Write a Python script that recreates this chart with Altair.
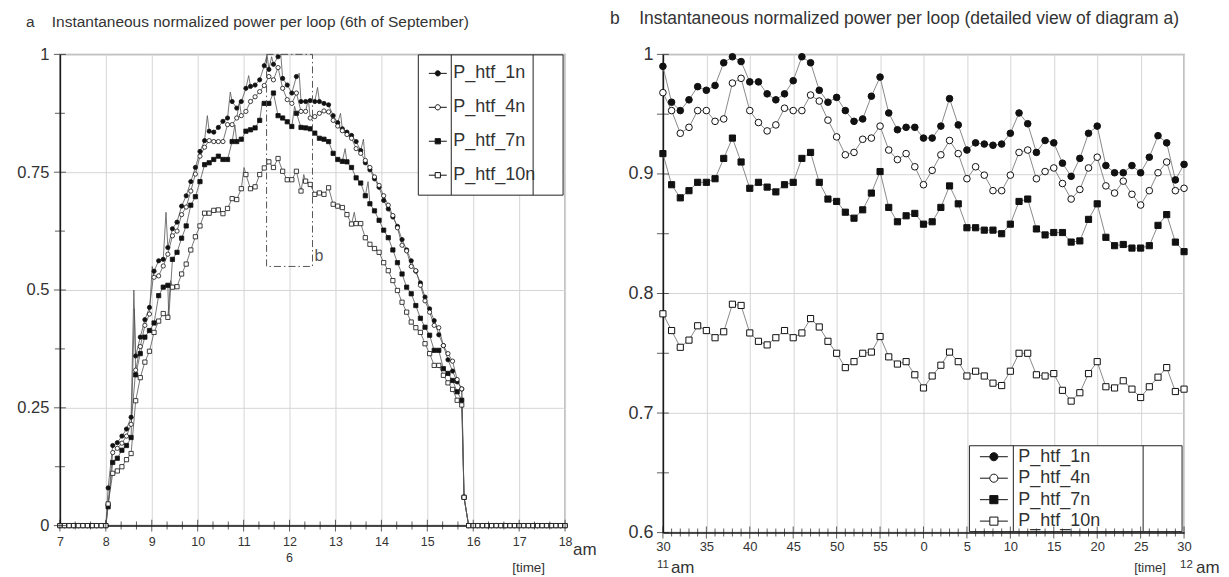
import altair as alt
import pandas as pd

FONT = "Liberation Sans"
INK = "#333333"
AXIS_INK = "#1a1a1a"
GRID = "#d5d5d5"
FRAME = "#a8a8a8"

SERIES = ["P_htf_1n", "P_htf_4n", "P_htf_7n", "P_htf_10n"]
MARKER_FILL = ["#111111", "#ffffff", "#111111", "#ffffff"]
ROUND_SERIES = ["P_htf_1n", "P_htf_4n"]
SQUARE_SERIES = ["P_htf_7n", "P_htf_10n"]

# ================= diagram a : whole day (hours) =================
A_T_DAY = [round(8.05 + 0.1 * k, 2) for k in range(78)]
A_1N = [0.08, 0.17, 0.176, 0.19, 0.205, 0.23, 0.36, 0.40, 0.437, 0.463,
        0.54, 0.562, 0.565, 0.59, 0.63, 0.644, 0.678, 0.70, 0.73, 0.76,
        0.794, 0.817, 0.837, 0.835, 0.845, 0.858, 0.865, 0.90, 0.886, 0.90,
        0.928, 0.932, 0.935, 0.946, 0.976, 0.968, 0.979, 0.995, 0.949, 0.935,
        0.918, 0.953, 0.90, 0.90, 0.902, 0.90, 0.90, 0.896, 0.893, 0.87,
        0.855, 0.842, 0.835, 0.828, 0.815, 0.796, 0.77, 0.755, 0.736, 0.718,
        0.69, 0.672, 0.655, 0.635, 0.607, 0.585, 0.562, 0.54, 0.515, 0.485,
        0.46, 0.435, 0.405, 0.382, 0.352, 0.328, 0.305, 0.29]
A_4N = [0.045, 0.155, 0.164, 0.175, 0.19, 0.215, 0.33, 0.38, 0.425, 0.449,
        0.527, 0.53, 0.551, 0.576, 0.615, 0.625, 0.66, 0.676, 0.71, 0.746,
        0.784, 0.803, 0.817, 0.815, 0.815, 0.815, 0.851, 0.851, 0.865, 0.87,
        0.879, 0.90, 0.91, 0.921, 0.934, 0.953, 0.946, 0.972, 0.928, 0.904,
        0.896, 0.918, 0.879, 0.879, 0.865, 0.868, 0.875, 0.88, 0.878, 0.86,
        0.848, 0.838, 0.83, 0.822, 0.80, 0.79, 0.775, 0.76, 0.74, 0.722,
        0.70, 0.68, 0.658, 0.632, 0.595, 0.583, 0.55, 0.541, 0.51, 0.477,
        0.453, 0.425, 0.42, 0.382, 0.365, 0.349, 0.31, 0.29]
A_7N = [0.04, 0.134, 0.143, 0.16, 0.17, 0.187, 0.32, 0.365, 0.40, 0.414,
        0.43, 0.488, 0.506, 0.51, 0.565, 0.58, 0.61, 0.636, 0.68, 0.698,
        0.73, 0.766, 0.77, 0.777, 0.784, 0.777, 0.777, 0.815, 0.815, 0.82,
        0.837, 0.84, 0.844, 0.86, 0.896, 0.896, 0.918, 0.87, 0.865, 0.857,
        0.847, 0.875, 0.845, 0.844, 0.842, 0.833, 0.822, 0.82, 0.815, 0.79,
        0.777, 0.773, 0.772, 0.76, 0.738, 0.727, 0.70, 0.683, 0.668, 0.648,
        0.627, 0.611, 0.585, 0.558, 0.534, 0.506, 0.492, 0.467, 0.44, 0.421,
        0.404, 0.372, 0.372, 0.333, 0.323, 0.308, 0.284, 0.266]
A_10N = [0.046, 0.111, 0.116, 0.125, 0.14, 0.153, 0.265, 0.314, 0.347, 0.37,
         0.41, 0.434, 0.45, 0.442, 0.506, 0.507, 0.534, 0.555, 0.585, 0.613,
         0.636, 0.663, 0.663, 0.669, 0.67, 0.662, 0.673, 0.694, 0.692, 0.715,
         0.745, 0.715, 0.719, 0.745, 0.759, 0.772, 0.76, 0.779, 0.752, 0.734,
         0.734, 0.752, 0.71, 0.731, 0.724, 0.703, 0.706, 0.703, 0.717, 0.682,
         0.678, 0.675, 0.66, 0.64, 0.641, 0.641, 0.611, 0.597, 0.588, 0.58,
         0.558, 0.541, 0.52, 0.499, 0.474, 0.453, 0.432, 0.42, 0.41, 0.386,
         0.365, 0.34, 0.34, 0.319, 0.303, 0.289, 0.266, 0.256]
A_T_TRIP = 15.8
A_TRIP = [0.06, 0.06, 0.06, 0.06]
A_T_OFF = [7.0, 7.1, 7.2, 7.3, 7.4, 7.5, 7.6, 7.7, 7.8, 7.9, 8.0,
           15.9, 16.0, 16.1, 16.2, 16.3, 16.4, 16.5, 16.6, 16.7, 16.8, 16.9,
           17.0, 17.1, 17.2, 17.3, 17.4, 17.5, 17.6, 17.7, 17.8, 17.9, 18.0]
A_OFF = 0.0
# short one-minute spikes visible on the lines between markers
A_SPIKE_T = {
    "P_htf_1n": [8.61, 9.31, 10.21, 10.71, 11.11, 11.51, 11.61, 11.81, 12.21, 12.61, 13.11, 13.61],
    "P_htf_4n": [9.01, 10.91, 12.41],
    "P_htf_7n": [8.62, 9.37, 10.81, 11.41, 12.11, 13.21, 13.71],
    "P_htf_10n": [9.41, 11.01, 12.31, 13.41],
}
A_SPIKE_P = {
    "P_htf_1n": [0.50, 0.665, 0.87, 0.92, 0.955, 1.0, 0.995, 1.0, 0.96, 0.93, 0.875, 0.82],
    "P_htf_4n": [0.55, 0.90, 0.905],
    "P_htf_7n": [0.46, 0.44, 0.85, 0.90, 0.89, 0.80, 0.73],
    "P_htf_10n": [0.52, 0.76, 0.745, 0.665],
}
A_ZOOM = {"t0": 11.5, "t1": 12.5, "p0": 0.55, "p1": 1.0}

# ================= diagram b : 11:30 - 12:30 (minutes) =================
B_MINUTE = list(range(30, 91))
B_1N = [0.990, 0.960, 0.953, 0.962, 0.973, 0.970, 0.974, 0.993, 0.998, 0.994,
        0.977, 0.977, 0.967, 0.962, 0.967, 0.978, 0.998, 0.993, 0.970, 0.960,
        0.964, 0.953, 0.944, 0.946, 0.965, 0.981, 0.951, 0.937, 0.939, 0.939,
        0.930, 0.930, 0.940, 0.963, 0.941, 0.920, 0.926, 0.925, 0.924, 0.925,
        0.934, 0.951, 0.942, 0.918, 0.928, 0.926, 0.909, 0.898, 0.913, 0.934,
        0.940, 0.907, 0.901, 0.901, 0.907, 0.901, 0.914, 0.932, 0.926, 0.895,
        0.908]
B_4N = [0.968, 0.953, 0.934, 0.939, 0.953, 0.953, 0.944, 0.946, 0.976, 0.980,
        0.953, 0.943, 0.936, 0.941, 0.955, 0.953, 0.953, 0.966, 0.961, 0.945,
        0.931, 0.916, 0.918, 0.929, 0.930, 0.940, 0.920, 0.912, 0.917, 0.906,
        0.891, 0.903, 0.916, 0.928, 0.917, 0.896, 0.906, 0.899, 0.886, 0.886,
        0.899, 0.918, 0.920, 0.896, 0.902, 0.905, 0.892, 0.879, 0.887, 0.905,
        0.914, 0.890, 0.884, 0.894, 0.883, 0.874, 0.886, 0.901, 0.910, 0.886,
        0.888]
B_7N = [0.917, 0.891, 0.880, 0.886, 0.893, 0.893, 0.896, 0.913, 0.930, 0.910,
        0.888, 0.893, 0.889, 0.885, 0.891, 0.893, 0.913, 0.918, 0.893, 0.879,
        0.877, 0.868, 0.863, 0.870, 0.884, 0.902, 0.872, 0.860, 0.865, 0.867,
        0.858, 0.860, 0.872, 0.890, 0.875, 0.855, 0.855, 0.853, 0.853, 0.850,
        0.858, 0.877, 0.879, 0.854, 0.849, 0.851, 0.851, 0.843, 0.844, 0.862,
        0.875, 0.847, 0.840, 0.841, 0.838, 0.838, 0.840, 0.857, 0.866, 0.843,
        0.835]
B_10N = [0.783, 0.769, 0.755, 0.761, 0.773, 0.769, 0.763, 0.768, 0.791, 0.790,
         0.767, 0.760, 0.757, 0.763, 0.769, 0.763, 0.767, 0.779, 0.772, 0.760,
         0.750, 0.738, 0.743, 0.750, 0.751, 0.764, 0.747, 0.741, 0.743, 0.732,
         0.721, 0.731, 0.740, 0.751, 0.743, 0.731, 0.735, 0.731, 0.725, 0.723,
         0.735, 0.750, 0.750, 0.732, 0.731, 0.733, 0.719, 0.710, 0.717, 0.733,
         0.743, 0.722, 0.721, 0.727, 0.720, 0.713, 0.722, 0.730, 0.738, 0.718,
         0.720]

# ================= axis ticks =================
A_X_MAJOR = list(range(7, 19))
A_X_MINOR = [round(h + f, 4) for h in range(7, 18) for f in (1 / 3, 2 / 3)]
A_Y_MAJOR = [0, 0.25, 0.5, 0.75, 1.0]
A_Y_MINOR = [0.125, 0.375, 0.625, 0.875]
B_X_MAJOR = list(range(30, 91, 5))
B_X_MINOR = [m for m in range(31, 90) if m % 5]
B_Y_MAJOR = [0.6, 0.7, 0.8, 0.9, 1.0]
B_Y_MINOR = [0.65, 0.75, 0.85, 0.95]

A_W, A_H = 506, 472
B_W, B_H = 522, 479


def key_paths(r):
    circle = (f"M-1,0L{-r},0M{r},0L1,0M{r},0A{r},{r},0,1,1,{-r},0"
              f"A{r},{r},0,1,1,{r},0Z")
    square = f"M-1,0L{-r},0M{r},0L1,0M{-r},{-r}L{r},{-r}L{r},{r}L{-r},{r}Z"
    return [circle, circle, square, square]


def legend(x, y, font_size, row_pad, pad, sym_size, sym_offset, label_offset):
    return alt.Legend(
        title=None, orient="none", legendX=x, legendY=y, direction="vertical",
        symbolSize=sym_size, symbolStrokeColor="#111111", symbolStrokeWidth=1,
        symbolOffset=sym_offset, labelOffset=label_offset,
        labelFont=FONT, labelFontSize=font_size, labelColor=INK,
        rowPadding=row_pad, padding=pad, clipHeight=font_size)


def rows(series, times, values):
    return [{"series": series, "t": t, "p": p} for t, p in zip(times, values)]


# ---------- data tables for a ----------
a_rec = []
for i, (s, vals) in enumerate(zip(SERIES, [A_1N, A_4N, A_7N, A_10N])):
    a_rec += rows(s, A_T_OFF, [A_OFF] * len(A_T_OFF))
    a_rec += rows(s, A_T_DAY, vals)
    a_rec += rows(s, [A_T_TRIP], [A_TRIP[i]])
a_marks = pd.DataFrame(a_rec)
spk = []
for s in SERIES:
    spk += rows(s, A_SPIKE_T[s], A_SPIKE_P[s])
a_lines = pd.concat([a_marks, pd.DataFrame(spk)], ignore_index=True)

# ---------- data tables for b ----------
b_rec = []
for s, vals in zip(SERIES, [B_1N, B_4N, B_7N, B_10N]):
    b_rec += [{"series": s, "m": m, "p": p} for m, p in zip(B_MINUTE, vals)]
b_marks = pd.DataFrame(b_rec)

ONE = pd.DataFrame([{"k": 0}])

# ================= panel a =================
xa_scale = alt.Scale(domain=[7, 18], nice=False, zero=False)
ya_scale = alt.Scale(domain=[0, 1], nice=False, zero=False)
xa_axis = alt.Axis(values=A_X_MAJOR, format="d", grid=True, gridColor=GRID, gridWidth=1,
                   ticks=False, tickSize=0, labelPadding=10, labelFont=FONT,
                   labelFontSize=12.5, labelColor=INK, labelFlush=False,
                   labelOverlap=False, labelBound=False, domainColor=AXIS_INK,
                   domainWidth=1.5)
ya_axis = alt.Axis(values=A_Y_MAJOR, format=".2~f", grid=True, gridColor=GRID, gridWidth=1,
                   ticks=False, tickSize=0, labelPadding=11, labelFont=FONT,
                   labelFontSize=16.5, labelColor=INK, labelFlush=False,
                   labelOverlap=False, labelBound=False, domainColor=AXIS_INK,
                   domainWidth=1.5)


def xa(f="t"):
    return alt.X(f"{f}:Q", scale=xa_scale, axis=xa_axis, title=None)


def ya(f="p"):
    return alt.Y(f"{f}:Q", scale=ya_scale, axis=ya_axis, title=None)


leg_a = legend(359, 0, 18, 16, 10, 324, 0, 6)
fill_a = alt.Fill("series:N", scale=alt.Scale(domain=SERIES, range=MARKER_FILL), legend=leg_a)
shape_a = alt.Shape("series:N", scale=alt.Scale(domain=SERIES, range=key_paths(0.29)), legend=leg_a)

a_line = alt.Chart(a_lines).mark_line(color="#555555", strokeWidth=0.8).encode(
    x=xa(), y=ya(), detail="series:N")
a_round = alt.Chart(a_marks[a_marks.series.isin(ROUND_SERIES)]).mark_point(
    shape="circle", filled=True, size=18, stroke="#111111", strokeWidth=0.8, opacity=1
).encode(x=xa(), y=ya(), fill=fill_a)
a_square = alt.Chart(a_marks[a_marks.series.isin(SQUARE_SERIES)]).mark_point(
    shape="square", filled=True, size=18, stroke="#111111", strokeWidth=0.8, opacity=1
).encode(x=xa(), y=ya(), fill=fill_a)
a_key = alt.Chart(a_marks).transform_filter("false").mark_point(
    filled=True, stroke="#111111", strokeWidth=1
).encode(x=xa(), y=ya(), fill=fill_a, shape=shape_a)

# legend frame with its column dividers (drawn under the legend entries)
a_legbg = alt.Chart(ONE).mark_rect(fill="white", stroke="#222222", strokeWidth=1).encode(
    x=alt.value(359), x2=alt.value(504), y=alt.value(0.5), y2=alt.value(141))
a_div1 = alt.Chart(ONE).mark_rule(color="#222222", strokeWidth=1).encode(
    x=alt.value(392), y=alt.value(0.5), y2=alt.value(141))
a_div2 = alt.Chart(ONE).mark_rule(color="#222222", strokeWidth=1).encode(
    x=alt.value(474), y=alt.value(0.5), y2=alt.value(141))

a_zoom = alt.Chart(pd.DataFrame([A_ZOOM])).mark_rect(
    fillOpacity=0, stroke="#555555", strokeWidth=1, strokeDash=[7, 3, 1.5, 3]
).encode(x=xa("t0"), x2=alt.X2("t1"), y=ya("p0"), y2=alt.Y2("p1"))
a_zoom_label = alt.Chart(pd.DataFrame([A_ZOOM])).mark_text(
    text="b", align="left", baseline="alphabetic", dx=2, dy=-5, fontSize=16,
    font=FONT, color="#555555").encode(x=xa("t1"), y=ya("p0"))

a_xt_major = alt.Chart(pd.DataFrame({"t": A_X_MAJOR, "p": [0] * len(A_X_MAJOR)})).mark_tick(
    orient="vertical", size=12, thickness=1, color=AXIS_INK).encode(x=xa(), y=ya())
a_xt_minor = alt.Chart(pd.DataFrame({"t": A_X_MINOR, "p": [0] * len(A_X_MINOR)})).mark_tick(
    orient="vertical", size=8, thickness=1, color=AXIS_INK).encode(x=xa(), y=ya())
a_yt_major = alt.Chart(pd.DataFrame({"t": [7] * len(A_Y_MAJOR), "p": A_Y_MAJOR})).mark_tick(
    orient="horizontal", size=12, thickness=1, color=AXIS_INK).encode(x=xa(), y=ya())
a_yt_minor = alt.Chart(pd.DataFrame({"t": [7] * len(A_Y_MINOR), "p": A_Y_MINOR})).mark_tick(
    orient="horizontal", size=10, thickness=1, color=AXIS_INK).encode(x=xa(), y=ya())


def a_note(t, text, dx, dy, size):
    return alt.Chart(pd.DataFrame([{"t": t, "p": 0}])).mark_text(
        text=text, align="left" if dx else "center", baseline="alphabetic", dx=dx, dy=dy,
        fontSize=size, font=FONT, color=INK).encode(x=xa(), y=ya())


panel_a = alt.layer(
    a_line, a_round, a_square, a_key, a_legbg, a_div1, a_div2, a_zoom, a_zoom_label,
    a_xt_major, a_xt_minor, a_yt_major, a_yt_minor,
    a_note(12, "6", 0, 36, 12.5), a_note(18, "am", 8, 29, 17), a_note(18, "[time]", -53, 46, 13.5),
).properties(
    width=A_W, height=A_H,
    title=alt.TitleParams(
        "a\u00a0\u00a0\u00a0\u00a0Instantaneous normalized power per loop (6th of September)",
        anchor="start", frame="group", dx=-34, offset=4, baseline="alphabetic",
        fontSize=15.5, font=FONT, fontWeight="normal", color=INK))

# ================= panel b =================
xb_scale = alt.Scale(domain=[30, 90], nice=False, zero=False)
yb_scale = alt.Scale(domain=[0.6, 1.0], nice=False, zero=False)
xb_axis = alt.Axis(values=B_X_MAJOR, labelExpr="datum.value % 60", grid=True, gridColor=GRID,
                   gridWidth=1, ticks=False, tickSize=0, labelPadding=8, labelFont=FONT,
                   labelFontSize=13, labelColor=INK, labelFlush=False, labelOverlap=False,
                   labelBound=False, domainColor=AXIS_INK, domainWidth=1.5)
yb_axis = alt.Axis(values=B_Y_MAJOR, format=".1~f", grid=True, gridColor=GRID, gridWidth=1,
                   ticks=False, tickSize=0, labelPadding=10, labelFont=FONT,
                   labelFontSize=18, labelColor=INK, labelFlush=False, labelOverlap=False,
                   labelBound=False, domainColor=AXIS_INK, domainWidth=1.5)


def xb(f="m"):
    return alt.X(f"{f}:Q", scale=xb_scale, axis=xb_axis, title=None)


def yb(f="p"):
    return alt.Y(f"{f}:Q", scale=yb_scale, axis=yb_axis, title=None)


leg_b = legend(307, 392, 18, 3.5, 2, 784, 8, 10)
fill_b = alt.Fill("series:N", scale=alt.Scale(domain=SERIES, range=MARKER_FILL), legend=leg_b)
shape_b = alt.Shape("series:N", scale=alt.Scale(domain=SERIES, range=key_paths(0.29)), legend=leg_b)

b_line = alt.Chart(b_marks).mark_line(color="#8a8a8a", strokeWidth=1).encode(
    x=xb(), y=yb(), detail="series:N")
b_round = alt.Chart(b_marks[b_marks.series.isin(ROUND_SERIES)]).mark_point(
    shape="circle", filled=True, size=44, stroke="#111111", strokeWidth=1, opacity=1
).encode(x=xb(), y=yb(), fill=fill_b)
b_square = alt.Chart(b_marks[b_marks.series.isin(SQUARE_SERIES)]).mark_point(
    shape="square", filled=True, size=38, stroke="#111111", strokeWidth=1, opacity=1
).encode(x=xb(), y=yb(), fill=fill_b)
b_key = alt.Chart(b_marks).transform_filter("false").mark_point(
    filled=True, stroke="#111111", strokeWidth=1
).encode(x=xb(), y=yb(), fill=fill_b, shape=shape_b)

b_legbg = alt.Chart(ONE).mark_rect(fill="white", stroke="#222222", strokeWidth=1).encode(
    x=alt.value(307), x2=alt.value(520), y=alt.value(392), y2=alt.value(478))
b_div1 = alt.Chart(ONE).mark_rule(color="#222222", strokeWidth=1).encode(
    x=alt.value(351), y=alt.value(392), y2=alt.value(478))
b_div2 = alt.Chart(ONE).mark_rule(color="#222222", strokeWidth=1).encode(
    x=alt.value(481), y=alt.value(392), y2=alt.value(478))

b_xt_major = alt.Chart(pd.DataFrame({"m": B_X_MAJOR, "p": [0.6] * len(B_X_MAJOR)})).mark_tick(
    orient="vertical", size=12, thickness=1, color=AXIS_INK).encode(x=xb(), y=yb())
b_xt_minor = alt.Chart(pd.DataFrame({"m": B_X_MINOR, "p": [0.6] * len(B_X_MINOR)})).mark_tick(
    orient="vertical", size=8, thickness=1, color=AXIS_INK).encode(x=xb(), y=yb())
b_yt_major = alt.Chart(pd.DataFrame({"m": [30] * len(B_Y_MAJOR), "p": B_Y_MAJOR})).mark_tick(
    orient="horizontal", size=12, thickness=1, color=AXIS_INK).encode(x=xb(), y=yb())
b_yt_minor = alt.Chart(pd.DataFrame({"m": [30] * len(B_Y_MINOR), "p": B_Y_MINOR})).mark_tick(
    orient="horizontal", size=12, thickness=1, color=AXIS_INK).encode(x=xb(), y=yb())


def b_note(m, text, dx, dy, size):
    return alt.Chart(pd.DataFrame([{"m": m, "p": 0.6}])).mark_text(
        text=text, align="left", baseline="alphabetic", dx=dx, dy=dy,
        fontSize=size, font=FONT, color=INK).encode(x=xb(), y=yb())


panel_b = alt.layer(
    b_line, b_round, b_square, b_key, b_legbg, b_div1, b_div2,
    b_xt_major, b_xt_minor, b_yt_major, b_yt_minor,
    b_note(30, "11", -6, 35, 11.5), b_note(30, "am", 8, 40, 17),
    b_note(90, "[time]", -50, 39, 13), b_note(90, "12", -4, 35, 11.5), b_note(90, "am", 12, 40, 17),
).properties(
    width=B_W, height=B_H,
    title=alt.TitleParams(
        "b\u00a0\u00a0\u00a0\u00a0Instantaneous normalized power per loop (detailed view of diagram a)",
        anchor="start", frame="group", dx=-53, offset=4, baseline="alphabetic",
        fontSize=17.5, font=FONT, fontWeight="normal", color=INK))

chart = alt.hconcat(panel_a, panel_b, spacing=98, bounds="flush").resolve_scale(
    x="independent", y="independent", fill="independent", shape="independent"
).resolve_legend(fill="independent", shape="independent").properties(
    padding={"left": 8, "top": 0, "right": 0, "bottom": 0}
).configure(font=FONT).configure_view(stroke=FRAME, strokeWidth=1.5)

chart.save("out.html", embed_options={"renderer": "svg", "actions": False})
